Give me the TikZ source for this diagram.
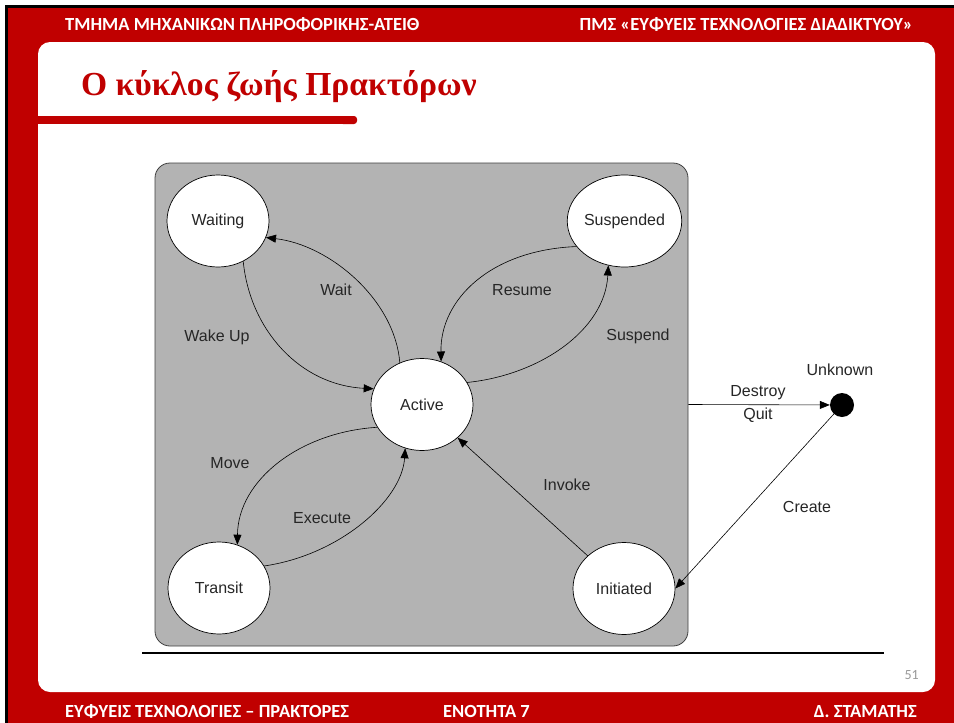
\documentclass[tikz,border=0pt]{standalone}
\usepackage{fontspec}
\setmainfont{Liberation Sans}
\newfontfamily\hdrfont{Carlito}
\newfontfamily\titlefont{Liberation Serif}
\usetikzlibrary{arrows.meta,shapes.geometric}
\definecolor{slidered}{HTML}{C00000}
\definecolor{boxgray}{HTML}{B3B3B3}
\begin{document}
\begin{tikzpicture}[x=1pt,y=-1pt,
  state/.style={ellipse,draw=black,line width=0.7pt,fill=white,
    minimum width=102pt,minimum height=92pt,inner sep=0pt,
    font=\fontsize{16}{19}\selectfont,text=black!85},
  lbl/.style={font=\fontsize{16}{19}\selectfont,text=black!85,inner sep=0pt},
  trans/.style={draw=black,line width=0.6pt,-{Triangle[length=10pt,width=8pt]}},
  hdr/.style={font=\hdrfont\bfseries\fontsize{18.5}{21}\selectfont,text=white,inner sep=0pt}]
\useasboundingbox (0,0) rectangle (954,723);
% slide frame
\fill[white] (0,0) rectangle (954,723);
\fill[black] (5,5) rectangle (954,723);
\fill[slidered] (8,8) rectangle (954,723);
\fill[white,rounded corners=12pt] (38,42) rectangle (935,692);

% header and footer
\node[hdr,anchor=base west] (hdrleft) at (65,30) {ΤΜΗΜΑ ΜΗΧΑΝΙΚΩΝ ΠΛΗΡΟΦΟΡΙΚΗΣ-ΑΤΕΙΘ};
\node[hdr,anchor=base east] (hdrright) at (913,30) {ΠΜΣ «ΕΥΦΥΕΙΣ ΤΕΧΝΟΛΟΓΙΕΣ ΔΙΑΔΙΚΤΥΟΥ»};
\node[hdr,anchor=base west] (ftleft) at (65,717) {ΕΥΦΥΕΙΣ ΤΕΧΝΟΛΟΓΙΕΣ – ΠΡΑΚΤΟΡΕΣ};
\node[hdr,anchor=base west] (ftmid) at (443,717) {ΕΝΟΤΗΤΑ 7};
\node[hdr,anchor=base east] (ftright) at (917,717) {Δ. ΣΤΑΜΑΤΗΣ};

% title
\node[anchor=base west,inner sep=0pt,text=slidered,
  font=\titlefont\bfseries\fontsize{33.6}{38}\selectfont] (title) at (81,95) {Ο κύκλος ζωής Πρακτόρων};
\fill[slidered] (38,116) rectangle (350,124);
\fill[slidered,rounded corners=3pt] (340,116) rectangle (357,124);

% page number
\node[anchor=base east,inner sep=0pt,text=black!40,
  font=\hdrfont\fontsize{14}{16}\selectfont] (pagenum) at (919,679) {51};

% life-cycle frame
\node[draw=black!75,fill=boxgray,rounded corners=15pt,line width=0.8pt,
  minimum width=533pt,minimum height=483pt,inner sep=0pt] (lifebox) at (421.5,404.5) {};
\draw[line width=1.1pt] (142,653) -- (884,653);

% states
\node[state] (waiting) at (218,221) {Waiting};
\node[state] (suspended) at (624.5,221) {Suspended};
\node[state] (active) at (422,404.5) {Active};
\node[state] (transit) at (219,588) {Transit};
\node[state] (initiated) at (624,588.5) {Initiated};
\node[circle,fill=black,minimum size=24pt,inner sep=0pt] (unknown) at (842,405) {};

% transitions
\draw[trans] (active.118) .. controls (395,300) and (330,245) .. (waiting.-19);
\draw[trans] (waiting.-58) .. controls (250,330) and (300,385) .. (active.162);
\draw[trans] (suspended.208) .. controls (490,250) and (440,300) .. (active.66);
\draw[trans] (active.26) .. controls (540,375) and (605,330) .. (suspended.250);
\draw[trans] (active.207) .. controls (300,432) and (238,480) .. (transit.67);
\draw[trans] (transit.26) .. controls (340,555) and (402,500) .. (active.249);
\draw[trans] (initiated.138) -- (active.-43);
\draw[trans] (lifebox.east) -- (unknown);
\draw[trans] (unknown) -- (initiated.east);

% transition labels
\node[lbl] (lwait) at (336,290) {Wait};
\node[lbl] (lwake) at (217,337) {Wake Up};
\node[lbl] (lresume) at (522,290) {Resume};
\node[lbl] (lsuspend) at (638,336) {Suspend};
\node[lbl] (lmove) at (230,463) {Move};
\node[lbl] (lexecute) at (322,518) {Execute};
\node[lbl] (linvoke) at (567,485) {Invoke};
\node[lbl] (ldestroy) at (758,393) {Destroy};
\node[lbl] (lquit) at (758,415) {Quit};
\node[lbl] (lunknown) at (840,370) {Unknown};
\node[lbl] (lcreate) at (807,507) {Create};
\end{tikzpicture}
\end{document}
